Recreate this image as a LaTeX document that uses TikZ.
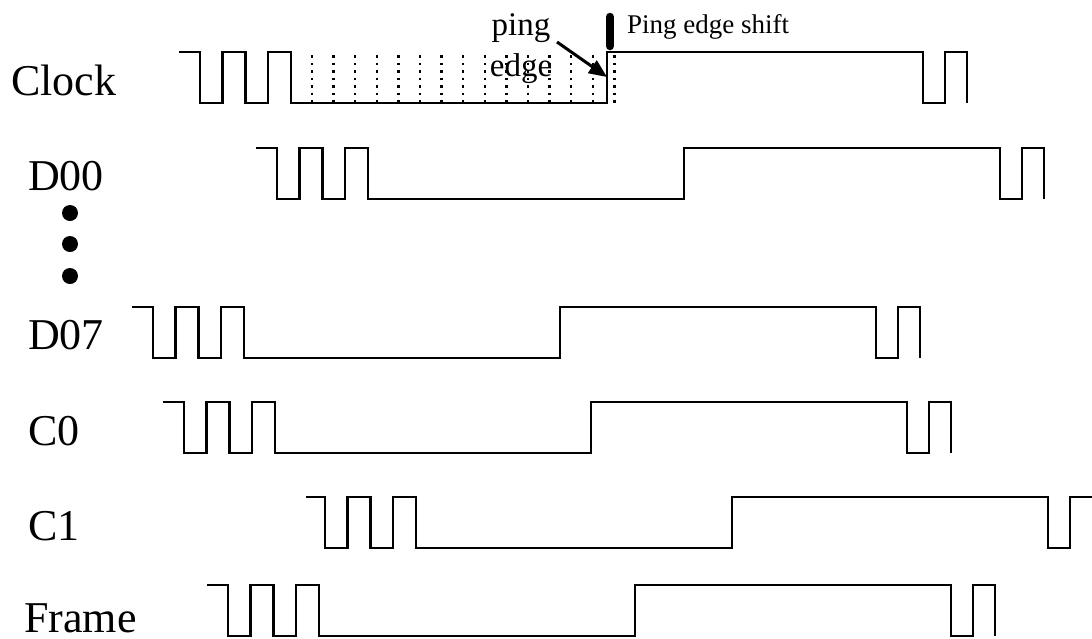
\documentclass[tikz,border=0pt]{standalone}
\usepackage{fontspec}
\setmainfont{Liberation Serif}
\usetikzlibrary{arrows.meta}
\tikzset{
  wave/.style={line width=2.6pt, line join=miter},
  gridline/.style={line width=2.5pt, dash pattern=on 2.5pt off 5pt},
  siglabel/.style={anchor=base west, inner sep=0pt, font=\fontsize{44}{50}\selectfont},
  pinglabel/.style={anchor=base, inner sep=0pt, font=\fontsize{33}{40}\selectfont},
  shiftlabel/.style={anchor=base west, inner sep=0pt, font=\fontsize{27}{32}\selectfont},
  pointer/.style={line width=3pt, -{Triangle[length=18pt,width=15pt]}},
  marker/.style={line width=8.5pt, line cap=round}
}
\begin{document}
\begin{tikzpicture}[x=1pt,y=-1pt]
\useasboundingbox (0,0) rectangle (1092,638);
% labels
\node[siglabel] (clk) at (11,95) {Clock};
\node[siglabel] (d00) at (28,190) {D00};
\node[siglabel] (d07) at (28,349) {D07};
\node[siglabel] (c0) at (28,445) {C0};
\node[siglabel] (c1) at (28,540) {C1};
\node[siglabel] (frame) at (24,632) {Frame};
% vertical dots
\foreach \yy in {213,244,276} \fill (70,\yy) circle[radius=8pt];
% dotted grid under clock
\foreach \k in {0,...,14} \draw[gridline] (312+\k*21.6,55) -- (312+\k*21.6,103);
% waveforms
\foreach \f/\h/\l in {200/52/103, 277/148/199, 153/307/358, 184/402/453, 228/585/636} {
  \draw[wave] (\f-21,\h) -- (\f,\h) -- (\f,\l) -- (\f+22.5,\l) -- (\f+22.5,\h) -- (\f+45.5,\h) -- (\f+45.5,\l) -- (\f+68,\l) -- (\f+68,\h) -- (\f+91,\h) -- (\f+91,\l) -- (\f+407,\l) -- (\f+407,\h) -- (\f+723,\h) -- (\f+723,\l) -- (\f+745,\l) -- (\f+745,\h) -- (\f+767,\h) -- (\f+767,\l);
}
\def\f{325}\def\h{497}\def\l{548}
\draw[wave] (\f-19,\h) -- (\f,\h) -- (\f,\l) -- (\f+22.5,\l) -- (\f+22.5,\h) -- (\f+45.5,\h) -- (\f+45.5,\l) -- (\f+68,\l) -- (\f+68,\h) -- (\f+91,\h) -- (\f+91,\l) -- (\f+407,\l) -- (\f+407,\h) -- (\f+723,\h) -- (\f+723,\l) -- (\f+745,\l) -- (\f+745,\h) -- (1092,\h);
% ping edge annotation
\node[pinglabel] (ping) at (521,35) {ping};
\node[pinglabel] (edge) at (521,76) {edge};
\coordinate (arrstart) at (557,42);
\coordinate (pingedge) at (607,77);
\draw[pointer] (arrstart) -- (pingedge);
\coordinate (mtop) at (610,17);
\coordinate (mbot) at (610,46);
\draw[marker] (mtop) -- (mbot);
\node[shiftlabel] (shift) at (627,33) {Ping edge shift};
\end{tikzpicture}
\end{document}
